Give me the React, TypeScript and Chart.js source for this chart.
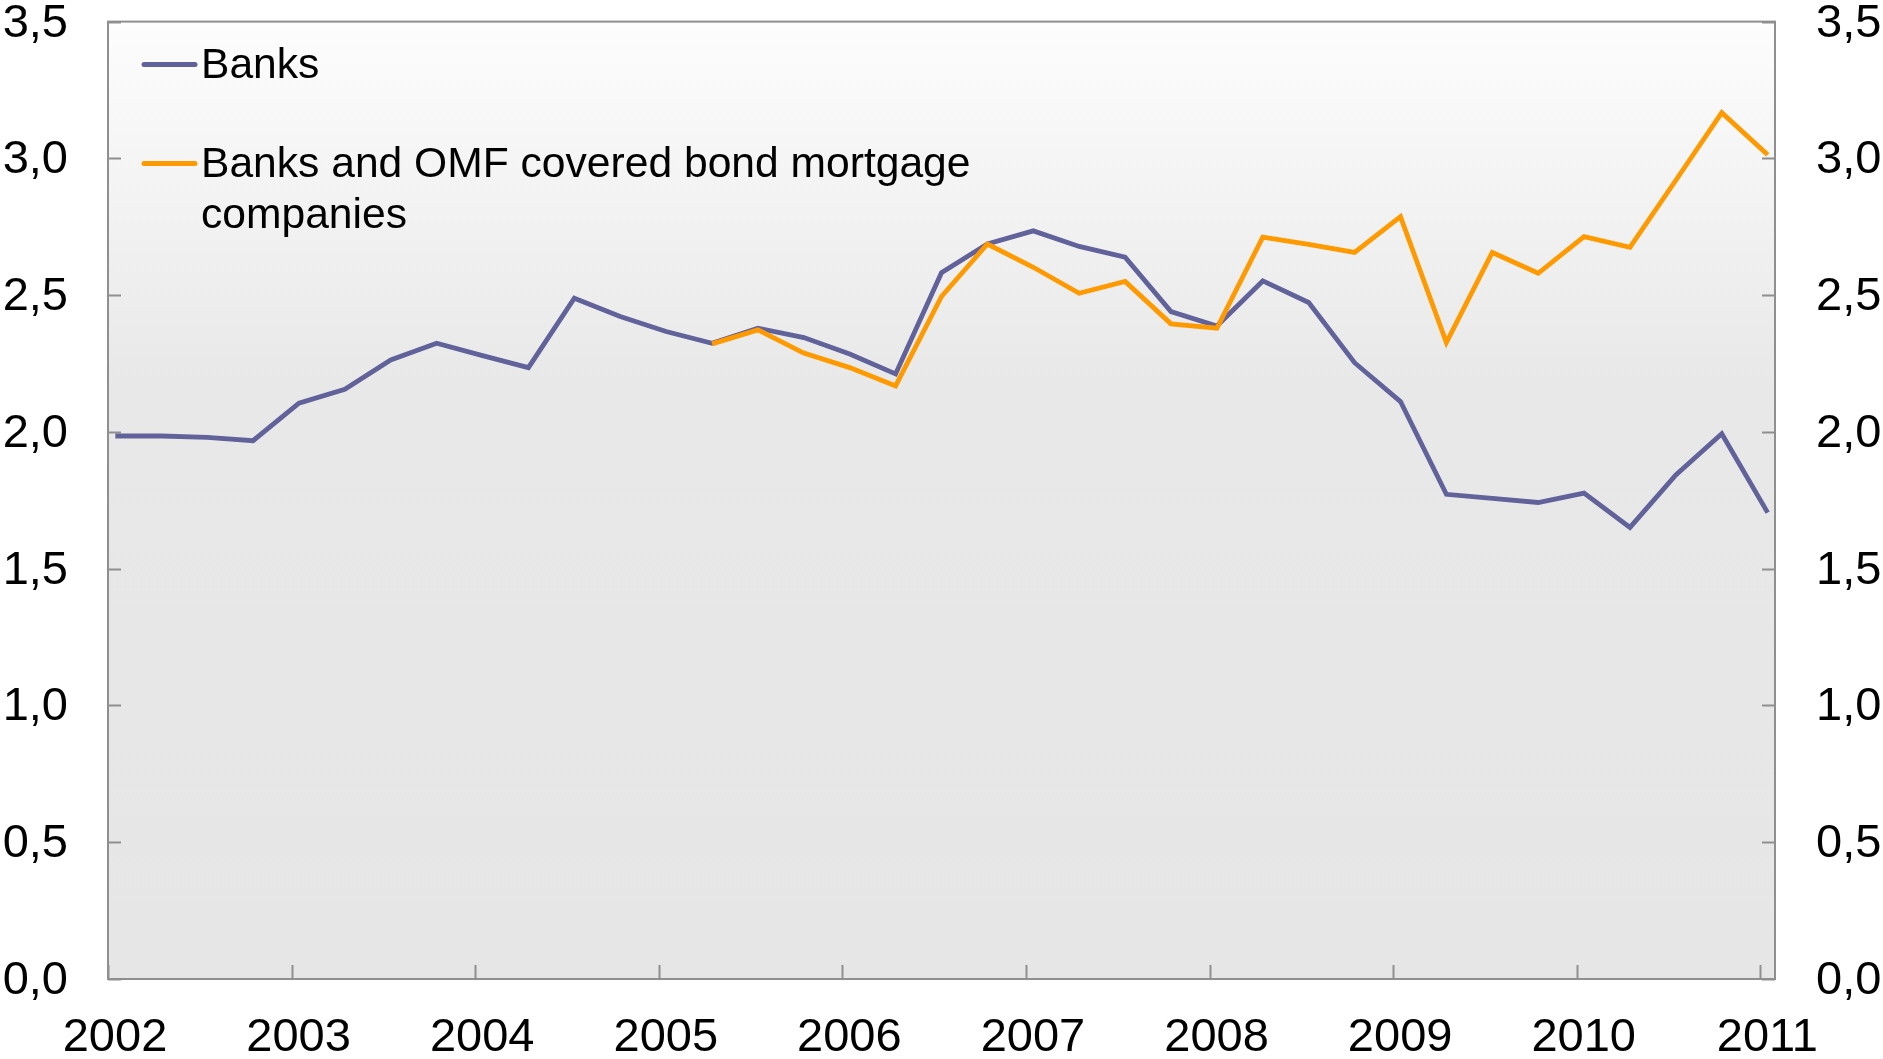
import { useEffect, useRef } from "react";
import { Chart, registerables } from "chart.js";

Chart.register(...registerables);

const quarters = [
  "2002Q1", "2002Q2", "2002Q3", "2002Q4",
  "2003Q1", "2003Q2", "2003Q3", "2003Q4",
  "2004Q1", "2004Q2", "2004Q3", "2004Q4",
  "2005Q1", "2005Q2", "2005Q3", "2005Q4",
  "2006Q1", "2006Q2", "2006Q3", "2006Q4",
  "2007Q1", "2007Q2", "2007Q3", "2007Q4",
  "2008Q1", "2008Q2", "2008Q3", "2008Q4",
  "2009Q1", "2009Q2", "2009Q3", "2009Q4",
  "2010Q1", "2010Q2", "2010Q3", "2010Q4",
  "2011Q1",
];

const banks = [
  1.985, 1.985, 1.98, 1.968, 2.105, 2.156, 2.263, 2.324, 2.279, 2.235,
  2.489, 2.422, 2.367, 2.324, 2.379, 2.345, 2.285, 2.212, 2.582, 2.687,
  2.735, 2.678, 2.639, 2.44, 2.387, 2.552, 2.473, 2.253, 2.111, 1.772,
  1.757, 1.742, 1.776, 1.651, 1.843, 1.993, 1.705,
];

const banksAndOmf = [
  null, null, null, null, null, null, null, null, null, null, null, null, null,
  2.322, 2.373, 2.288, 2.235, 2.168, 2.495, 2.687, 2.602, 2.507, 2.55,
  2.395, 2.379, 2.712, 2.686, 2.656, 2.787, 2.327, 2.656, 2.58, 2.714,
  2.675, 2.92, 3.167, 3.013,
];

const seriesNames = ["Banks", "Banks and OMF covered bond mortgage|companies"];
const seriesColors = ["#62629b", "#ff9900"];

const yTickValues = [0, 0.5, 1.0, 1.5, 2.0, 2.5, 3.0, 3.5];
const yearTicks = [2002, 2003, 2004, 2005, 2006, 2007, 2008, 2009, 2010, 2011];

const FONT = "'Liberation Sans', Arial, sans-serif";

function quarterToX(q: string): number {
  const year = parseInt(q.slice(0, 4), 10);
  const qi = parseInt(q.slice(5), 10) - 1;
  return year + qi * 0.25 + 0.04;
}

const fmt = (v: number) => v.toFixed(1).replace(".", ",");

const framePlugin = {
  id: "frame",
  beforeDraw(chart: any) {
    const { ctx, chartArea: a } = chart;
    const g = ctx.createLinearGradient(0, a.top, 0, a.bottom);
    g.addColorStop(0, "#fdfdfd");
    g.addColorStop(0.38, "#e8e8e8");
    g.addColorStop(1, "#e6e6e6");
    ctx.save();
    ctx.fillStyle = g;
    ctx.fillRect(a.left, a.top, a.right - a.left, a.bottom - a.top);
    ctx.restore();
  },
  beforeDatasetsDraw(chart: any) {
    const { ctx, chartArea: a, scales } = chart;
    ctx.save();
    ctx.strokeStyle = "#8f8f8f";
    ctx.lineWidth = 2;
    ctx.strokeRect(a.left, a.top, a.right - a.left, a.bottom - a.top);
    ctx.beginPath();
    for (const v of yTickValues) {
      const y = Math.round(scales.y.getPixelForValue(v)) + 0.5;
      ctx.moveTo(a.left, y);
      ctx.lineTo(a.left + 13, y);
      ctx.moveTo(a.right - 13, y);
      ctx.lineTo(a.right, y);
    }
    for (const yr of yearTicks) {
      const x = Math.round(scales.x.getPixelForValue(yr)) + 0.5;
      ctx.moveTo(x, a.bottom);
      ctx.lineTo(x, a.bottom - 14);
    }
    ctx.stroke();
    ctx.restore();
  },
  afterDraw(chart: any) {
    const { ctx, chartArea: a } = chart;
    ctx.save();
    ctx.font = `42.6px ${FONT}`;
    ctx.textBaseline = "middle";
    ctx.textAlign = "left";
    const rows = [
      { y: a.top + 43, color: seriesColors[0], text: seriesNames[0] },
      { y: a.top + 142, color: seriesColors[1], text: seriesNames[1] },
    ];
    for (const r of rows) {
      ctx.strokeStyle = r.color;
      ctx.lineWidth = 5;
      ctx.lineCap = "round";
      ctx.beginPath();
      ctx.moveTo(a.left + 36, r.y);
      ctx.lineTo(a.left + 87, r.y);
      ctx.stroke();
      ctx.fillStyle = "#000";
      const lines = r.text.split("|");
      lines.forEach((t, i) => ctx.fillText(t, a.left + 93, r.y + 2 + i * 51));
    }
    ctx.restore();
  },
};

const noPad = (s: any) => {
  s.paddingTop = 0;
  s.paddingBottom = 0;
  s.paddingLeft = 0;
  s.paddingRight = 0;
};

export default function App() {
  const ref = useRef<HTMLCanvasElement>(null);
  useEffect(() => {
    document.body.style.margin = "0";
    Chart.defaults.font.family = FONT;
    const xs = quarters.map(quarterToX);
    const chart = new Chart(ref.current!, {
      type: "line",
      data: {
        datasets: [
          {
            label: "Banks",
            data: xs.map((x, i) => ({ x, y: banks[i] })),
            borderColor: seriesColors[0],
            borderWidth: 4.8,
            pointRadius: 0,
            tension: 0,
            order: 1,
            yAxisID: "y",
          },
          {
            label: "Banks and OMF covered bond mortgage companies",
            data: xs.map((x, i) => ({ x, y: banksAndOmf[i] as any })),
            borderColor: seriesColors[1],
            borderWidth: 4.8,
            pointRadius: 0,
            tension: 0,
            spanGaps: false,
            order: 0,
            yAxisID: "y",
          },
        ],
      },
      options: {
        animation: false,
        responsive: false,
        maintainAspectRatio: false,
        layout: { padding: { top: 21.6, left: 0, right: 0, bottom: 0 } },
        plugins: { legend: { display: false }, tooltip: { enabled: false } },
        scales: {
          x: {
            type: "linear",
            position: "bottom",
            min: 2002,
            max: 2011.08,
            afterBuildTicks: (s: any) => {
              s.ticks = yearTicks.map((v) => ({ value: v }));
            },
            afterFit: (s: any) => {
              s.height = 80;
              noPad(s);
            },
            ticks: {
              callback: (v: any) => String(v),
              font: { size: 47 },
              color: "#000",
              padding: 31,
              labelOffset: 7,
              maxRotation: 0,
              autoSkip: false,
            },
            grid: { display: false, drawTicks: false },
            border: { display: false },
          },
          y: {
            type: "linear",
            position: "left",
            min: 0,
            max: 3.5,
            afterBuildTicks: (s: any) => {
              s.ticks = yTickValues.map((v) => ({ value: v }));
            },
            afterFit: (s: any) => {
              s.width = 108;
              noPad(s);
            },
            ticks: {
              callback: (v: any) => fmt(Number(v)),
              font: { size: 47 },
              color: "#000",
              padding: 40,
              labelOffset: 2,
            },
            grid: { display: false, drawTicks: false },
            border: { display: false },
          },
          y2: {
            type: "linear",
            position: "right",
            min: 0,
            max: 3.5,
            afterBuildTicks: (s: any) => {
              s.ticks = yTickValues.map((v) => ({ value: v }));
            },
            afterFit: (s: any) => {
              s.width = 108;
              noPad(s);
            },
            ticks: {
              callback: (v: any) => fmt(Number(v)),
              font: { size: 47 },
              color: "#000",
              padding: 41,
              labelOffset: 2,
            },
            grid: { display: false, drawTicks: false },
            border: { display: false },
          },
        },
      },
      plugins: [framePlugin],
    });
    return () => chart.destroy();
  }, []);
  return (
    <div style={{ width: 1883, height: 1059, overflow: "hidden" }}>
      <canvas ref={ref} width={1883} height={1059} style={{ display: "block" }} />
    </div>
  );
}
